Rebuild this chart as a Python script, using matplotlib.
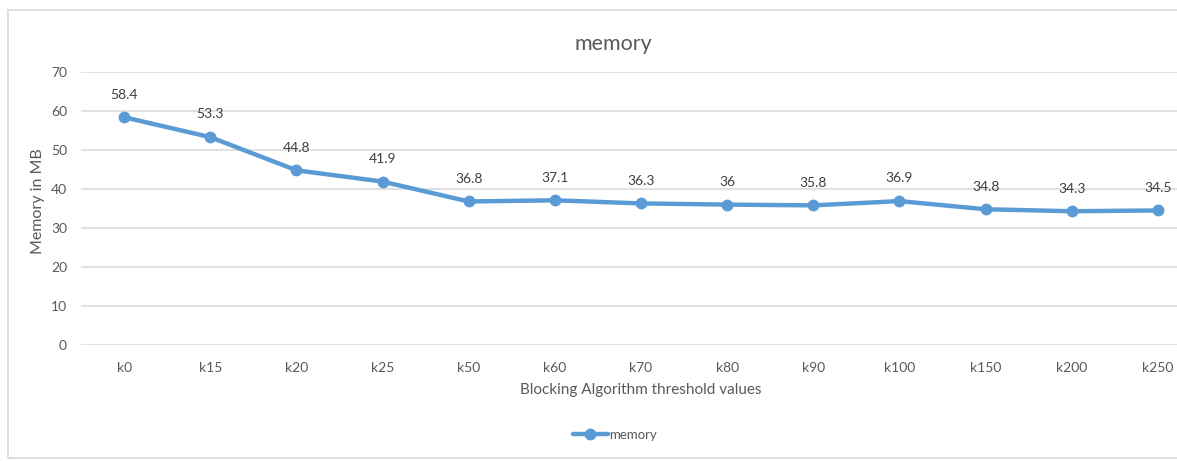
import matplotlib.pyplot as plt
from matplotlib.patches import Rectangle

plt.rcParams['font.family'] = ['Lato', 'DejaVu Sans']

thresholds = ['k0', 'k15', 'k20', 'k25', 'k50', 'k60', 'k70', 'k80', 'k90',
              'k100', 'k150', 'k200', 'k250']
memory = [58.4, 53.3, 44.8, 41.9, 36.8, 37.1, 36.3, 36, 35.8, 36.9, 34.8, 34.3, 34.5]

blue = '#5B9BD5'
grey = '#595959'

fig = plt.figure(figsize=(11.77, 4.61), dpi=100)

# chart frame
fig.patches.append(Rectangle((8 / 1177, 3 / 461), 1.2, 448 / 461, transform=fig.transFigure,
                             fill=False, edgecolor='#D9D9D9', linewidth=1.2))

ax = fig.add_axes([81 / 1177, 116 / 461, 1120 / 1177, 273 / 461])
x = list(range(len(thresholds)))
ax.plot(x, memory, color=blue, linewidth=3.2, marker='o', markersize=7.5,
        label='memory', solid_capstyle='round', zorder=3)
for xi, v in zip(x, memory):
    ax.annotate(f'{v:g}', (xi, v), xytext=(0, 12), textcoords='offset points',
                ha='center', va='bottom', fontsize=10, color='#404040')

ax.set_xlim(-0.5, len(thresholds) - 0.5)
ax.set_ylim(0, 70)
ax.set_yticks(range(0, 71, 10))
ax.set_xticks(x)
ax.set_xticklabels(thresholds)
ax.grid(axis='y', color='#D9D9D9', linewidth=1.1)
ax.set_axisbelow(True)
for s in ax.spines.values():
    s.set_visible(False)
ax.tick_params(length=0, colors=grey, labelsize=10, pad=12)
ax.tick_params(axis='y', pad=10)

ax.set_title('memory', fontsize=15.5, color=grey, x=(613 - 81) / 1120, pad=16)
fig.text(641 / 1177, 1 - 390 / 461, 'Blocking Algorithm threshold values',
         ha='center', va='center', fontsize=11, color=grey)
fig.text(38 / 1177, 1 - 201 / 461, 'Memory in MB', rotation=90,
         ha='center', va='center', fontsize=11.5, color=grey)

leg = fig.legend(loc='center', bbox_to_anchor=(615 / 1177, 1 - 435 / 461), frameon=False,
                 fontsize=9.5, handlelength=2.6, handletextpad=0.1, labelcolor=grey)

fig.savefig('out.png', dpi=100)
